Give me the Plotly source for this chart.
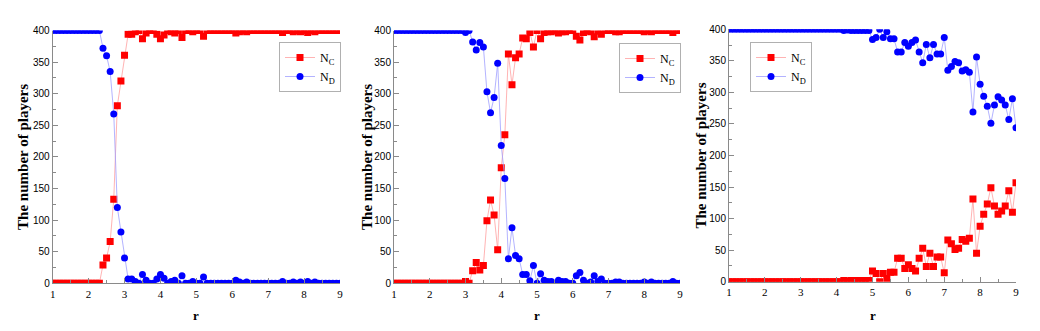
import plotly.graph_objects as go

# r values (step 0.1 from 1 to 9)
r = [round(1 + 0.1 * i, 1) for i in range(81)]

# Panel 1
nc1 = [0, 0, 0, 0, 0, 0, 0, 0, 0, 0,
       0, 0, 0, 0, 29, 40, 66, 133, 281, 320,
       361, 394, 394, 398, 400, 387, 396, 400, 400, 394,
       387, 393, 400, 398, 396, 400, 389, 400, 400, 398,
       400, 400, 391, 400, 400, 400, 400, 400, 400, 400,
       400, 396, 398, 400, 398, 400, 400, 400, 400, 400,
       400, 400, 400, 400, 397, 400, 400, 398, 400, 398,
       400, 397, 400, 398, 400, 400, 400, 400, 400, 400,
       400]
nd1 = [400, 400, 400, 400, 400, 400, 400, 400, 400, 400,
       400, 400, 400, 400, 372, 360, 335, 268, 120, 81,
       40, 7, 7, 3, 0, 14, 5, 0, 0, 7,
       14, 8, 0, 3, 5, 0, 12, 0, 0, 3,
       0, 0, 10, 0, 0, 0, 0, 0, 0, 0,
       0, 5, 2, 0, 2, 0, 0, 0, 0, 0,
       0, 0, 0, 0, 3, 0, 0, 2, 0, 2,
       0, 3, 0, 2, 0, 0, 0, 0, 0, 0,
       0]

# Panel 2
nc2 = [0, 0, 0, 0, 0, 0, 0, 0, 0, 0,
       0, 0, 0, 0, 0, 0, 0, 0, 0, 0,
       3, 0, 20, 33, 21, 28, 99, 132, 108, 53,
       183, 235, 363, 314, 357, 363, 388, 387, 397, 374,
       400, 387, 397, 398, 398, 400, 396, 398, 398, 400,
       400, 391, 385, 397, 400, 398, 390, 399, 394, 400,
       400, 400, 398, 398, 400, 400, 400, 400, 400, 400,
       398, 400, 398, 400, 400, 400, 400, 400, 397, 400,
       400]
nd2 = [400, 400, 400, 400, 400, 400, 400, 400, 400, 400,
       400, 400, 400, 400, 400, 400, 400, 400, 400, 400,
       397, 400, 382, 369, 381, 374, 303, 270, 294, 348,
       218, 166, 39, 88, 44, 39, 14, 14, 4, 28,
       0, 15, 5, 3, 3, 0, 5, 3, 3, 0,
       0, 12, 17, 5, 0, 2, 12, 3, 7, 0,
       0, 0, 2, 2, 0, 0, 0, 0, 0, 0,
       2, 0, 2, 0, 0, 0, 0, 0, 3, 0,
       0]

# Panel 3
nc3 = [0, 0, 0, 0, 0, 0, 0, 0, 0, 0,
       0, 0, 0, 0, 0, 0, 0, 0, 0, 0,
       0, 0, 0, 0, 0, 0, 0, 0, 0, 0,
       0, 0, 2, 1, 2, 2, 2, 2, 2, 2,
       17, 13, 0, 13, 5, 15, 15, 37, 37, 21,
       27, 21, 17, 37, 53, 24, 45, 24, 39, 39,
       14, 66, 60, 51, 53, 67, 64, 69, 131, 45,
       88, 107, 123, 149, 120, 107, 112, 120, 144, 110,
       157]
nd3 = [400, 400, 400, 400, 400, 400, 400, 400, 400, 400,
       400, 400, 400, 400, 400, 400, 400, 400, 400, 400,
       400, 400, 400, 400, 400, 400, 400, 400, 400, 400,
       400, 400, 398, 399, 398, 398, 398, 398, 398, 398,
       384, 387, 400, 387, 396, 385, 385, 364, 364, 379,
       373, 379, 383, 364, 347, 376, 355, 376, 361, 361,
       387, 335, 341, 349, 347, 334, 336, 332, 269, 356,
       313, 294, 278, 251, 280, 293, 288, 280, 257, 290,
       244]

x_ticks = [1, 2, 3, 4, 5, 6, 7, 8, 9]
y_ticks = [0, 50, 100, 150, 200, 250, 300, 350, 400]
legend_names = ["N<sub>C</sub>", "N<sub>D</sub>"]

panels = [(nc1, nd1), (nc2, nd2), (nc3, nd3)]

# page body has an 8px margin; figure is shifted accordingly
OFF = 8
W, H = 1040 - OFF, 331 - OFF
xdom_px = [(52.7, 340.0), (394.0, 680.0), (729.0, 1016.0)]
ydom_px = [(30.5, 283.3), (30.5, 283.3), (29.3, 281.7)]
legend_pos = [(279, 42), (619, 43), (750, 42)]
ytitle_x = [23, 367, 700]
xtitle_y = 315


def px(v):
    return (v - OFF) / W


def py(v):
    return (H - (v - OFF)) / H


SERIF = "Liberation Serif, Times New Roman, serif"
RED = "#ff0000"
BLUE = "#0000ff"

fig = go.Figure()
layout = dict(
    width=W, height=H,
    margin=dict(l=0, r=0, t=0, b=0, autoexpand=False),
    paper_bgcolor="white", plot_bgcolor="white",
    showlegend=True,
    annotations=[],
)

for k, (nc, nd) in enumerate(panels):
    sfx = "" if k == 0 else str(k + 1)
    xa, ya = "x" + sfx, "y" + sfx
    lg = "legend" + sfx
    fig.add_trace(go.Scatter(
        x=r, y=nc, xaxis=xa, yaxis=ya, mode="lines+markers",
        name=legend_names[0], legend=lg,
        line=dict(color="#ffa0a0", width=0.8),
        marker=dict(symbol="square", size=7, color=RED),
    ))
    fig.add_trace(go.Scatter(
        x=r, y=nd, xaxis=xa, yaxis=ya, mode="lines+markers",
        name=legend_names[1], legend=lg,
        line=dict(color="#a0a0ff", width=0.8),
        marker=dict(symbol="circle", size=7, color=BLUE),
    ))
    x0, x1 = xdom_px[k]
    yt, yb = ydom_px[k]
    layout["xaxis" + sfx] = dict(
        domain=[px(x0), px(x1)], anchor=ya, range=[1, 9],
        tickvals=x_ticks, ticktext=[str(v) for v in x_ticks],
        showline=True, linecolor="#8a8a8a", linewidth=1,
        ticks="inside", ticklen=5, tickcolor="#8a8a8a",
        minor=dict(ticks="inside", ticklen=3, dtick=0.5, tickcolor="#8a8a8a"),
        showgrid=False, zeroline=False, automargin=False,
        tickfont=dict(family=SERIF, size=11, color="black"),
    )
    layout["yaxis" + sfx] = dict(
        domain=[py(yb), py(yt)], anchor=xa, range=[0, 400],
        tickvals=y_ticks, ticktext=[str(v) for v in y_ticks],
        showline=True, linecolor="#8a8a8a", linewidth=1,
        ticks="inside", ticklen=5, tickcolor="#8a8a8a",
        minor=dict(ticks="inside", ticklen=3, dtick=25, tickcolor="#8a8a8a"),
        showgrid=False, zeroline=False, automargin=False,
        tickfont=dict(family="Liberation Sans, Arial, sans-serif", size=10, color="black"),
    )
    lx, ly = legend_pos[k]
    layout[lg] = dict(
        x=px(lx), y=py(ly), xanchor="left", yanchor="top",
        bordercolor="#b0b0b0", borderwidth=1, bgcolor="white",
        font=dict(family=SERIF, size=12, color="black"),
        itemwidth=30, tracegroupgap=0,
    )
    layout["annotations"].append(dict(
        text="<b>The number of players</b>", textangle=-90,
        xref="paper", yref="paper", x=px(ytitle_x[k]), y=py((yt + yb) / 2),
        xanchor="center", yanchor="middle", showarrow=False,
        font=dict(family=SERIF, size=15, color="black"),
    ))
    layout["annotations"].append(dict(
        text="<b>r</b>",
        xref="paper", yref="paper", x=px((x0 + x1) / 2), y=py(xtitle_y),
        xanchor="center", yanchor="middle", showarrow=False,
        font=dict(family=SERIF, size=13, color="black"),
    ))

fig.update_layout(**layout)
fig.write_html("out.html")
